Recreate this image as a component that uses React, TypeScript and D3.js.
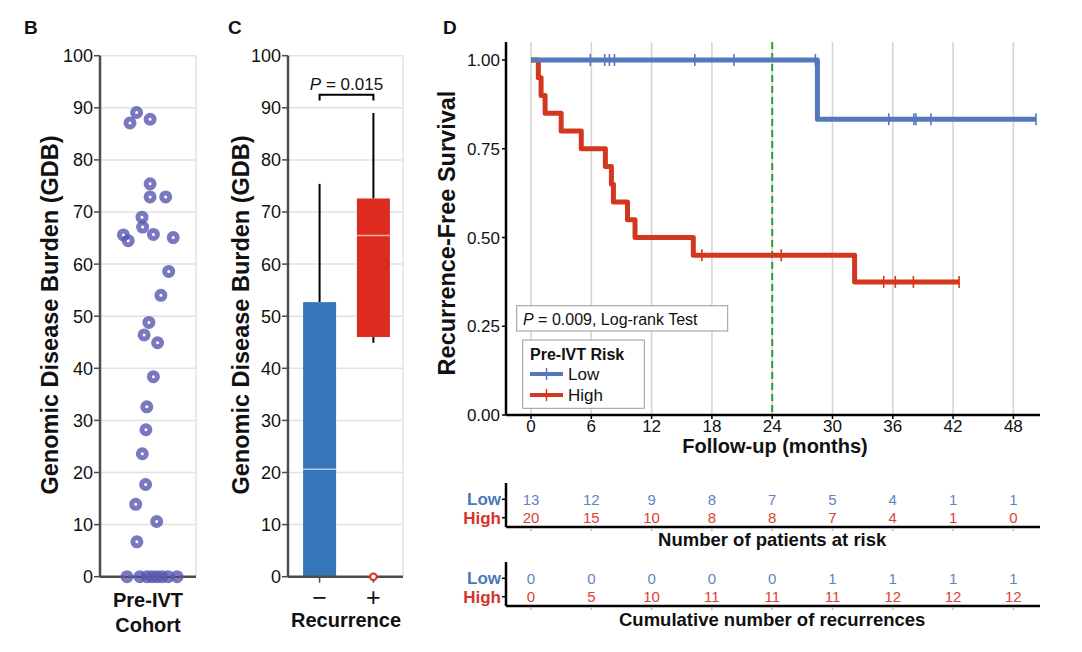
import React from 'react';
import * as d3 from 'd3';

// ---------- Panel B data ----------
const gdbValues = [87.1, 89.1, 87.8, 75.4, 72.9, 72.9, 69.0, 67.1, 65.6, 64.5, 65.7, 65.1, 58.6, 54.0, 48.8, 46.4, 44.9, 38.4, 32.6, 28.2, 23.6, 17.7, 13.9, 10.6, 6.7, 0, 0, 0, 0, 0, 0, 0, 0];
const gdbJitter = [-0.6, -0.38, 0.07, 0.07, 0.07, 0.59, -0.2, -0.18, -0.82, -0.66, 0.18, 0.84, 0.69, 0.43, 0.03, -0.13, 0.32, 0.18, -0.04, -0.07, -0.19, -0.08, -0.41, 0.29, -0.37, -0.7, -0.27, -0.03, 0.13, 0.3, 0.47, 0.67, 0.97];
const gdbTicks = [0, 10, 20, 30, 40, 50, 60, 70, 80, 90, 100];

// ---------- Panel C data ----------
const recurrenceGroups = ['\u2212', '+'];
const boxQ1 = [0, 46.0];
const boxMedian = [20.6, 65.5];
const boxQ3 = [52.7, 72.6];
const whiskerLow = [0, 44.9];
const whiskerHigh = [75.4, 89.0];
const outlierGroups = ['+'];
const outlierValues = [0];
const bracketTop = 92.5;
const bracketEnd = 91.4;

// ---------- Panel D data ----------
const lowTimes = [0, 28.5];
const lowSurv = [1, 0.833];
const lowEnd = 50.25;
const lowCensor = [5.9, 7.33, 7.8, 8.3, 16.3, 20.2, 28.3, 35.6, 38.1, 38.3, 39.8, 50.25];
const highTimes = [0, 0.73, 1.0, 1.4, 3.0, 5.0, 7.4, 8.0, 8.2, 9.6, 10.35, 16.15, 32.2];
const highSurv = [1, 0.95, 0.9, 0.85, 0.8, 0.75, 0.7, 0.65, 0.6, 0.55, 0.5, 0.45, 0.375];
const highEnd = 42.6;
const highCensor = [17.0, 24.9, 35.1, 36.25, 38.05, 42.6];
const kmXTicks = [0, 6, 12, 18, 24, 30, 36, 42, 48];
const kmYTicks = [0, 0.25, 0.5, 0.75, 1.0];
const landmark = 24;

const riskTimes = [0, 6, 12, 18, 24, 30, 36, 42, 48];
const riskLow = [13, 12, 9, 8, 7, 5, 4, 1, 1];
const riskHigh = [20, 15, 10, 8, 8, 7, 4, 1, 0];
const cumLow = [0, 0, 0, 0, 0, 1, 1, 1, 1];
const cumHigh = [0, 5, 10, 11, 11, 11, 12, 12, 12];

const FONT = '"Liberation Sans", Arial, Helvetica, sans-serif';
const BLUE_LINE = '#5577bb';
const RED_LINE = '#d3381f';
const BLUE_BOX = '#3476b8';
const RED_BOX = '#dd2c1f';
const BLUE_TXT = '#4a78b8';
const RED_TXT = '#d6342a';
const BLUE_NUM = '#6283c2';
const RED_NUM = '#d84335';
const POINT = '#5858b0';
const GRID = '#e2e2e2';
const AXG = '#4d4d4d';

function stepAt(times: number[], surv: number[], t: number) {
  let v = surv[0];
  for (let i = 0; i < times.length; i++) if (times[i] <= t) v = surv[i];
  return v;
}

export default function App() {
  // Panel B scales
  const yG = d3.scaleLinear().domain([0, 100]).range([576.7, 55.7]);
  const xB = d3.scaleLinear().domain([-1, 1]).range([118, 178]);
  const bLeft = 100, bRight = 196;

  // Panel C scales
  const cLeft = 288, cRight = 403;
  const xC = d3.scalePoint<string>().domain(recurrenceGroups).range([290, 403]).padding(0.55);
  const boxW = 33;
  const cColors = [BLUE_BOX, RED_BOX];

  // Panel D scales
  const xD = d3.scaleLinear().domain([-2.49, 50.65]).range([506, 1040]);
  const yD = d3.scaleLinear().domain([0, 1]).range([415, 60]);
  const dTop = 42;
  const line = d3.line<[number, number]>().x(d => xD(d[0])).y(d => yD(d[1])).curve(d3.curveStepAfter);
  const lowPts: [number, number][] = lowTimes.map((t, i) => [t, lowSurv[i]] as [number, number]).concat([[lowEnd, lowSurv[lowSurv.length - 1]]]);
  const highPts: [number, number][] = highTimes.map((t, i) => [t, highSurv[i]] as [number, number]).concat([[highEnd, highSurv[highSurv.length - 1]]]);

  const yLabelG = 'Genomic Disease Burden (GDB)';

  const riskTable = (axisTop: number, axisY: number, rowLow: number, rowHigh: number, lowVals: number[], highVals: number[], title: string, titleY: number) => (
    <g>
      <line x1={506} x2={506} y1={axisTop} y2={axisY} stroke="#000" strokeWidth={2.5} />
      <line x1={506} x2={1040} y1={axisY} y2={axisY} stroke="#000" strokeWidth={2.5} />
      <line x1={502} x2={506} y1={rowLow} y2={rowLow} stroke="#000" strokeWidth={1.5} />
      <line x1={502} x2={506} y1={rowHigh} y2={rowHigh} stroke="#000" strokeWidth={1.5} />
      <text x={501} y={rowLow} dy="0.36em" textAnchor="end" fontWeight="bold" fontSize={17} fill={BLUE_TXT}>Low</text>
      <text x={501} y={rowHigh} dy="0.36em" textAnchor="end" fontWeight="bold" fontSize={17} fill={RED_TXT}>High</text>
      {riskTimes.map((t, i) => (
        <g key={t}>
          <line x1={xD(t)} x2={xD(t)} y1={axisY + 1} y2={axisY + 4} stroke="#bbb" strokeWidth={1.5} />
          <text x={xD(t)} y={rowLow} dy="0.36em" textAnchor="middle" fontSize={15} fill={BLUE_NUM}>{lowVals[i]}</text>
          <text x={xD(t)} y={rowHigh} dy="0.36em" textAnchor="middle" fontSize={15} fill={RED_NUM}>{highVals[i]}</text>
        </g>
      ))}
      <text x={xD(24)} y={titleY} textAnchor="middle" fontWeight="bold" fontSize={18.5} fill="#111">{title}</text>
    </g>
  );

  return (
    <svg width={1082} height={652} style={{ position: 'absolute', left: 0, top: 0, background: '#fff' }} fontFamily={FONT}>
      <rect x={0} y={0} width={1082} height={652} fill="#fff" />
      {/* panel letters */}
      <text x={24} y={34} fontWeight="bold" fontSize={19} fill="#111">B</text>
      <text x={228} y={34} fontWeight="bold" fontSize={19} fill="#111">C</text>
      <text x={443} y={34} fontWeight="bold" fontSize={19} fill="#111">D</text>

      {/* ---------------- Panel B ---------------- */}
      <g>
        {gdbTicks.map(t => (
          <g key={t}>
            <line x1={bLeft} x2={bRight} y1={yG(t)} y2={yG(t)} stroke={GRID} strokeWidth={1.5} />
            <line x1={bLeft - 6} x2={bLeft} y1={yG(t)} y2={yG(t)} stroke={AXG} strokeWidth={1.5} />
            <text x={bLeft - 7} y={yG(t)} dy="0.36em" textAnchor="end" fontSize={18} fill="#111">{t}</text>
          </g>
        ))}
        <line x1={bRight} x2={bRight} y1={yG(100)} y2={yG(0)} stroke={GRID} strokeWidth={1.5} />
        <line x1={bLeft} x2={bLeft} y1={yG(100)} y2={yG(0)} stroke={AXG} strokeWidth={2.5} />
        <line x1={bLeft} x2={bRight} y1={yG(0)} y2={yG(0)} stroke={AXG} strokeWidth={2.5} />
        {gdbValues.map((v, i) => (
          <circle key={i} cx={xB(gdbJitter[i])} cy={yG(v)} r={4} fill="none" stroke={POINT} strokeOpacity={0.8} strokeWidth={5} />
        ))}
        <text transform={`translate(50,315) rotate(-90)`} textAnchor="middle" dy="0.36em" fontWeight="bold" fontSize={23.5} fill="#111">{yLabelG}</text>
        <text x={148} y={607} textAnchor="middle" fontWeight="bold" fontSize={20} fill="#111">Pre-IVT</text>
        <text x={148} y={632} textAnchor="middle" fontWeight="bold" fontSize={20} fill="#111">Cohort</text>
      </g>

      {/* ---------------- Panel C ---------------- */}
      <g>
        {gdbTicks.map(t => (
          <g key={t}>
            <line x1={cLeft} x2={cRight} y1={yG(t)} y2={yG(t)} stroke={GRID} strokeWidth={1.5} />
            <line x1={cLeft - 6} x2={cLeft} y1={yG(t)} y2={yG(t)} stroke={AXG} strokeWidth={1.5} />
            <text x={cLeft - 7} y={yG(t)} dy="0.36em" textAnchor="end" fontSize={18} fill="#111">{t}</text>
          </g>
        ))}
        <line x1={cRight} x2={cRight} y1={yG(100)} y2={yG(0)} stroke={GRID} strokeWidth={1.5} />
        {recurrenceGroups.map((g, i) => {
          const cx = xC(g)!;
          return (
            <g key={g}>
              <line x1={cx} x2={cx} y1={yG(whiskerHigh[i])} y2={yG(boxQ3[i])} stroke="#000" strokeWidth={2} />
              <line x1={cx} x2={cx} y1={yG(boxQ1[i])} y2={yG(whiskerLow[i])} stroke="#000" strokeWidth={2} />
              <rect x={cx - boxW / 2} width={boxW} y={yG(boxQ3[i])} height={yG(boxQ1[i]) - yG(boxQ3[i])} fill={cColors[i]} />
              <line x1={cx - boxW / 2} x2={cx + boxW / 2} y1={yG(boxMedian[i])} y2={yG(boxMedian[i])} stroke="#fff" strokeOpacity={0.6} strokeWidth={1.5} />
            </g>
          );
        })}
        <line x1={cLeft} x2={cLeft} y1={yG(100)} y2={yG(0)} stroke={AXG} strokeWidth={2.5} />
        <line x1={cLeft} x2={cRight} y1={yG(0)} y2={yG(0)} stroke={AXG} strokeWidth={2.5} />
        {recurrenceGroups.map(g => (
          <g key={g}>
            <line x1={xC(g)!} x2={xC(g)!} y1={yG(0)} y2={yG(0) + 6} stroke={AXG} strokeWidth={1.5} />
            <text x={xC(g)!} y={606} textAnchor="middle" fontSize={25} fill="#111">{g}</text>
          </g>
        ))}
        {outlierGroups.map((g, i) => (
          <circle key={i} cx={xC(g)!} cy={yG(outlierValues[i])} r={3.3} fill="#fff" stroke={RED_BOX} strokeWidth={2} />
        ))}
        <path d={`M${xC(recurrenceGroups[0])},${yG(bracketEnd)}V${yG(bracketTop)}H${xC(recurrenceGroups[1])}V${yG(bracketEnd)}`} fill="none" stroke="#000" strokeWidth={2} />
        <text x={(xC(recurrenceGroups[0])! + xC(recurrenceGroups[1])!) / 2} y={90} textAnchor="middle" fontSize={17} fill="#111">
          <tspan fontStyle="italic">P</tspan> = 0.015
        </text>
        <text transform={`translate(241,315) rotate(-90)`} textAnchor="middle" dy="0.36em" fontWeight="bold" fontSize={23.5} fill="#111">{yLabelG}</text>
        <text x={346} y={627} textAnchor="middle" fontWeight="bold" fontSize={20} fill="#111">Recurrence</text>
      </g>

      {/* ---------------- Panel D ---------------- */}
      <g>
        {kmXTicks.map(t => (
          <line key={t} x1={xD(t)} x2={xD(t)} y1={dTop} y2={yD(0)} stroke="#d4d4d4" strokeWidth={1.6} />
        ))}
        <line x1={xD(landmark)} x2={xD(landmark)} y1={dTop} y2={yD(0)} stroke="#2ca02c" strokeWidth={2} strokeDasharray="7,4" />
        <path d={line(highPts) || ''} fill="none" stroke={RED_LINE} strokeWidth={5} strokeLinejoin="round" />
        <path d={line(lowPts) || ''} fill="none" stroke={BLUE_LINE} strokeWidth={5} strokeLinejoin="round" />
        {lowCensor.map((t, i) => {
          const yy = yD(stepAt(lowTimes, lowSurv, t));
          return <line key={'lc' + i} x1={xD(t)} x2={xD(t)} y1={yy - 6} y2={yy + 6} stroke={BLUE_LINE} strokeWidth={1.6} />;
        })}
        {highCensor.map((t, i) => {
          const yy = yD(stepAt(highTimes, highSurv, t));
          return <line key={'hc' + i} x1={xD(t)} x2={xD(t)} y1={yy - 6} y2={yy + 6} stroke={RED_LINE} strokeWidth={1.6} />;
        })}
        <line x1={506} x2={506} y1={dTop} y2={yD(0)} stroke="#000" strokeWidth={2.5} />
        <line x1={506} x2={1040} y1={yD(0)} y2={yD(0)} stroke="#000" strokeWidth={2.5} />
        {kmYTicks.map(t => (
          <g key={t}>
            <line x1={502} x2={506} y1={yD(t)} y2={yD(t)} stroke="#000" strokeWidth={1.5} />
            <text x={500} y={yD(t)} dy="0.36em" textAnchor="end" fontSize={17} fill="#111">{t.toFixed(2)}</text>
          </g>
        ))}
        {kmXTicks.map(t => (
          <g key={t}>
            <line x1={xD(t)} x2={xD(t)} y1={yD(0)} y2={yD(0) + 4} stroke="#000" strokeWidth={1.5} />
            <text x={xD(t)} y={432} textAnchor="middle" fontSize={17} fill="#111">{t}</text>
          </g>
        ))}
        <text transform={`translate(447,233) rotate(-90)`} textAnchor="middle" dy="0.36em" fontWeight="bold" fontSize={23.5} fill="#111">Recurrence-Free Survival</text>
        <text x={775} y={453} textAnchor="middle" fontWeight="bold" fontSize={20} fill="#111">Follow-up (months)</text>

        {/* p-value box */}
        <rect x={516.7} y={305.7} width={211} height={25.3} fill="#fff" stroke="#9a9a9a" strokeWidth={1} />
        <text x={523} y={324.5} fontSize={16} fill="#111"><tspan fontStyle="italic">P</tspan> = 0.009, Log-rank Test</text>

        {/* legend */}
        <rect x={522.7} y={340} width={121.6} height={68.3} fill="#fff" stroke="#9a9a9a" strokeWidth={1} />
        <text x={530} y={360} fontWeight="bold" fontSize={16} fill="#111">Pre-IVT Risk</text>
        <line x1={530} x2={563} y1={374} y2={374} stroke={BLUE_LINE} strokeWidth={4} />
        <line x1={546.5} x2={546.5} y1={368} y2={380} stroke={BLUE_LINE} strokeWidth={1.5} />
        <text x={568} y={380} fontSize={17} fill="#111">Low</text>
        <line x1={530} x2={563} y1={395} y2={395} stroke={RED_LINE} strokeWidth={4} />
        <line x1={546.5} x2={546.5} y1={389} y2={401} stroke={RED_LINE} strokeWidth={1.5} />
        <text x={568} y={401} fontSize={17} fill="#111">High</text>
      </g>

      {/* risk tables */}
      {riskTable(483, 527, 499.3, 517.7, riskLow, riskHigh, 'Number of patients at risk', 546)}
      {riskTable(562, 606, 578.3, 596.7, cumLow, cumHigh, 'Cumulative number of recurrences', 626)}
    </svg>
  );
}
